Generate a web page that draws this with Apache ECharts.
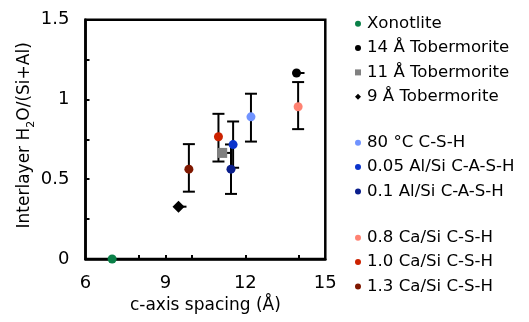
<!DOCTYPE html>
<html><head><meta charset="utf-8">
<script src="https://cdn.jsdelivr.net/npm/echarts@6/dist/echarts.min.js"></script>
<style>html,body{margin:0;padding:0;background:#fff}#c{width:529px;height:322px}</style>
</head><body><div id="c"></div>
<script>
// ---- data ----
const seriesNames = ['Xonotlite','14 Å Tobermorite','11 Å Tobermorite','9 Å Tobermorite',
  '80 °C C-S-H','0.05 Al/Si C-A-S-H','0.1 Al/Si C-A-S-H',
  '0.8 Ca/Si C-S-H','1.0 Ca/Si C-S-H','1.3 Ca/Si C-S-H'];
const xSpacing = [7.0, 13.92, 11.13, 9.49, 12.21, 11.54, 11.46, 13.98, 10.99, 9.88];
const waterRatio = [0, 1.166, 0.665, 0.328, 0.891, 0.717, 0.563, 0.954, 0.766, 0.563];
// vertical error bars: [low, high] (null = none)
const errLow  = [null, null, null, null, 0.736, 0.572, 0.408, 0.814, 0.611, 0.422];
const errHigh = [null, null, null, null, 1.036, 0.862, 0.718, 1.109, 0.910, 0.720];
// horizontal stub end (x) for tobermorites
const xErrRight = [null, 14.22, 11.43, 9.79, null, null, null, null, null, null];
const xTickLabels = [6, 9, 12, 15];
const xTickMarks = [8, 9, 10, 12, 14];
const yTickLabels = [0, 0.5, 1, 1.5];

// ---- styles ----
const colors = ['#0A8048','#000000','#808080','#000000','#7093FF','#0A33CC','#0A1E8C','#FF8272','#CC2200','#7F1800'];
const symbols = ['circle','circle','rect','diamond','circle','circle','circle','circle','circle','circle'];
const sizes = [9,9,10,12,9,9,9,9,9,9];
const FF = 'DejaVu Sans';

const errData = [];
const stubData = [];
for (let i = 0; i < seriesNames.length; i++) {
  if (errLow[i] != null) errData.push([xSpacing[i], errLow[i], errHigh[i]]);
  if (xErrRight[i] != null) stubData.push([xSpacing[i], waterRatio[i], xErrRight[i]]);
}

const series = [
  {
    type: 'custom', z: 1, silent: true,
    data: errData,
    encode: {x: 0, y: [1, 2]},
    renderItem(params, api) {
      const x = api.value(0);
      const lo = api.coord([x, api.value(1)]);
      const hi = api.coord([x, api.value(2)]);
      const cap = 6;
      const st = {stroke: '#000', lineWidth: 2};
      return {type: 'group', children: [
        {type: 'line', shape: {x1: lo[0], y1: lo[1], x2: hi[0], y2: hi[1]}, style: st},
        {type: 'line', shape: {x1: lo[0]-cap, y1: lo[1], x2: lo[0]+cap, y2: lo[1]}, style: st},
        {type: 'line', shape: {x1: hi[0]-cap, y1: hi[1], x2: hi[0]+cap, y2: hi[1]}, style: st}
      ]};
    }
  },
  {
    type: 'custom', z: 1, silent: true,
    data: stubData,
    encode: {x: [0, 2], y: 1},
    renderItem(params, api) {
      const a = api.coord([api.value(0), api.value(1)]);
      const b = api.coord([api.value(2), api.value(1)]);
      return {type: 'line', shape: {x1: a[0], y1: a[1], x2: b[0], y2: b[1]}, style: {stroke: '#000', lineWidth: 2}};
    }
  }
];
for (let i = 0; i < seriesNames.length; i++) {
  series.push({
    name: seriesNames[i], type: 'scatter', z: 3,
    symbol: symbols[i], symbolSize: sizes[i],
    itemStyle: {color: colors[i], opacity: 1},
    data: [[xSpacing[i], waterRatio[i]]]
  });
}

function legendBlock(names, top) {
  return {
    orient: 'vertical', left: 350, top: top,
    itemWidth: 6, itemHeight: 6, itemGap: 7.3,
    selectedMode: false,
    data: names.map((n) => ({name: n})),
    textStyle: {fontFamily: FF, fontSize: 16.6, lineHeight: 16, color: '#000', padding: [0,0,0,1]}
  };
}

const chart = echarts.init(document.getElementById('c'), null, {renderer: 'canvas'});
chart.setOption({
  animation: false,
  backgroundColor: '#fff',
  grid: {left: 85.5, right: 203.7, top: 19.7, bottom: 63, show: true, borderColor: '#000', borderWidth: 2.5},
  legend: [
    legendBlock(seriesNames.slice(0, 4), 10.3),
    legendBlock(seriesNames.slice(4, 7), 129.3),
    legendBlock(seriesNames.slice(7, 10), 224.3)
  ],
  xAxis: {
    type: 'value', min: 6, max: 15, interval: 3,
    name: 'c-axis spacing (Å)', nameLocation: 'middle', nameGap: 38,
    nameTextStyle: {fontFamily: FF, fontSize: 17, color: '#000'},
    axisLine: {show: true, onZero: false, lineStyle: {color: '#000', width: 2.5}},
    axisTick: {show: true, inside: true, length: 4, customValues: xTickMarks, lineStyle: {color: '#000', width: 2}},
    axisLabel: {fontFamily: FF, fontSize: 18, color: '#000', margin: 15, customValues: xTickLabels},
    splitLine: {show: false}
  },
  yAxis: {
    type: 'value', min: 0, max: 1.5, interval: 0.25,
    name: 'Interlayer H{s|2}O/(Si+Al)', nameLocation: 'middle', nameGap: 51,
    nameTextStyle: {fontFamily: FF, fontSize: 17, color: '#000', padding: [0, 0, 0, 8],
      rich: {s: {fontFamily: FF, fontSize: 11, color: '#000', verticalAlign: 'bottom', padding: [0,0,-4,0]}}},
    axisLine: {show: true, onZero: false, lineStyle: {color: '#000', width: 2.5}},
    axisTick: {show: true, inside: true, length: 4, lineStyle: {color: '#000', width: 2}},
    axisLabel: {fontFamily: FF, fontSize: 18, color: '#000', margin: 16, customValues: yTickLabels,
      formatter: (v) => String(v)},
    splitLine: {show: false}
  },
  series: series
});
</script></body></html>
